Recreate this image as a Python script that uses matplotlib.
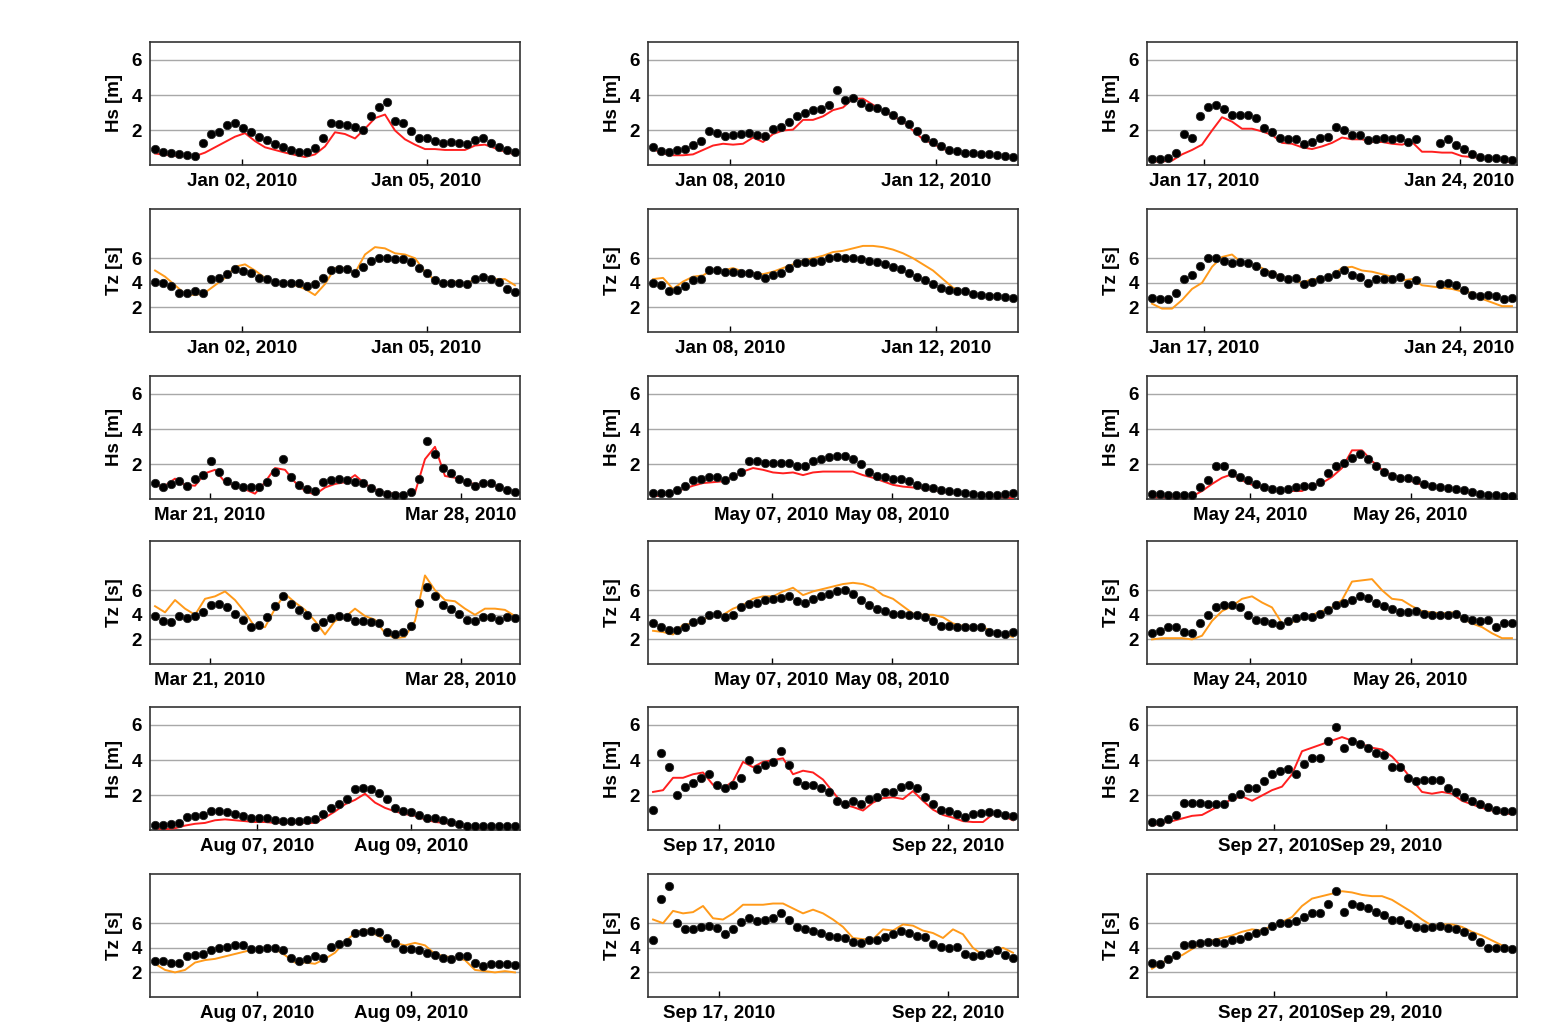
import numpy as np
import pandas as pd
import matplotlib
matplotlib.use("Agg")
import matplotlib.pyplot as plt
import matplotlib.dates as mdates

plt.rcParams['font.family'] = ['Liberation Sans', 'DejaVu Sans']
plt.rcParams['font.weight'] = 'bold'
nan = np.nan

# ------------------------------------------------------------------ data
# Event 1: early January
jan01_span = ["2009-12-31 14:00", "2010-01-06 10:30"]
jan01_ticks = ["2010-01-02", "2010-01-05"]
jan01_hs_obs = [0.95, 0.8, 0.75, 0.68, 0.62, 0.55, 1.3, 1.8, 1.9, 2.3, 2.4, 2.15, 1.9, 1.65, 1.45, 1.25,
                1.05, 0.9, 0.8, 0.78, 1.0, 1.55, 2.45, 2.35, 2.3, 2.2, 2.05, 2.8, 3.35, 3.6, 2.55, 2.4,
                1.95, 1.6, 1.6, 1.4, 1.3, 1.35, 1.3, 1.25, 1.45, 1.6, 1.3, 1.05, 0.9, 0.8]
jan01_hs_mod = [0.7, 0.62, 0.57, 0.55, 0.55, 0.75, 1.05, 1.35, 1.65, 1.85, 1.4, 1.05, 0.9, 0.75, 0.62,
                0.5, 0.65, 1.1, 1.9, 1.8, 1.55, 2.1, 2.7, 2.9, 2.0, 1.5, 1.2, 0.95, 0.95, 0.9, 0.9,
                0.9, 1.15, 1.2, 1.0, 0.8, 0.65]
jan01_tz_obs = [4.1, 4.0, 3.7, 3.15, 3.2, 3.3, 3.2, 4.3, 4.4, 4.7, 5.1, 4.95, 4.8, 4.4, 4.3, 4.1,
                4.0, 4.0, 4.0, 3.7, 3.9, 4.4, 5.0, 5.1, 5.1, 4.8, 5.3, 5.8, 6.0, 6.0, 5.95, 5.9,
                5.7, 5.2, 4.8, 4.2, 4.0, 4.0, 4.0, 3.9, 4.3, 4.5, 4.3, 4.1, 3.5, 3.25]
jan01_tz_mod = [5.0, 4.5, 3.8, 3.1, 3.0, 3.2, 3.8, 4.4, 5.3, 5.5, 5.0, 4.4, 4.0, 4.0, 3.8, 3.5,
                3.0, 3.9, 5.2, 5.2, 4.8, 6.3, 6.9, 6.8, 6.4, 6.3, 6.0, 4.9, 4.2, 4.0, 4.1, 3.9,
                4.3, 4.5, 4.3, 4.3, 3.8]

# Event 2: mid January
jan08_span = ["2010-01-06 12:00", "2010-01-13 12:00"]
jan08_ticks = ["2010-01-08", "2010-01-12"]
jan08_hs_obs = [1.05, 0.85, 0.8, 0.9, 0.95, 1.2, 1.4, 1.95, 1.85, 1.7, 1.75, 1.8, 1.85, 1.75, 1.7, 2.1,
                2.2, 2.5, 2.8, 3.0, 3.15, 3.2, 3.45, 4.3, 3.7, 3.85, 3.55, 3.3, 3.25, 3.1, 2.9, 2.6,
                2.35, 1.95, 1.6, 1.35, 1.1, 0.9, 0.85, 0.75, 0.7, 0.65, 0.65, 0.6, 0.55, 0.5]
jan08_hs_mod = [0.95, 0.7, 0.6, 0.6, 0.65, 0.9, 1.15, 1.25, 1.2, 1.25, 1.6, 1.35, 1.8, 2.0, 2.05, 2.6,
                2.6, 2.8, 3.15, 3.3, 3.8, 3.8, 3.45, 3.1, 2.8, 2.5, 2.0, 1.5, 1.25, 0.95, 0.8, 0.7,
                0.65, 0.6, 0.6, 0.55, 0.5]
jan08_tz_obs = [4.0, 3.8, 3.3, 3.4, 3.7, 4.2, 4.3, 5.0, 5.0, 4.9, 4.9, 4.8, 4.8, 4.6, 4.4, 4.6,
                4.8, 5.2, 5.6, 5.7, 5.7, 5.8, 6.0, 6.1, 6.0, 6.0, 5.9, 5.8, 5.7, 5.5, 5.3, 5.1,
                4.8, 4.5, 4.2, 3.9, 3.6, 3.4, 3.3, 3.3, 3.1, 3.0, 2.95, 2.95, 2.85, 2.75]
jan08_tz_mod = [4.3, 4.4, 3.5, 4.1, 4.5, 4.6, 5.1, 5.0, 5.2, 4.9, 4.8, 4.7, 4.9, 5.2, 5.5, 5.8,
                6.0, 6.2, 6.5, 6.6, 6.8, 7.0, 7.0, 6.9, 6.7, 6.4, 6.0, 5.5, 5.0, 4.3, 3.6, 3.3,
                3.2, 3.0, 3.0, 2.9, 2.8]

# Event 3: late January
jan17_span = ["2010-01-15 13:30", "2010-01-25 10:30"]
jan17_ticks = ["2010-01-17", "2010-01-24"]
jan17_hs_obs = [0.4, 0.4, 0.45, 0.7, 1.8, 1.6, 2.8, 3.35, 3.45, 3.2, 2.9, 2.9, 2.85, 2.7, 2.15, 1.9,
                1.55, 1.5, 1.5, 1.25, 1.35, 1.55, 1.65, 2.2, 2.0, 1.75, 1.75, 1.45, 1.5, 1.6, 1.5, 1.55,
                1.35, 1.5, nan, nan, 1.3, 1.5, 1.2, 0.95, 0.65, 0.5, 0.45, 0.45, 0.4, 0.35]
jan17_hs_mod = [0.25, 0.25, 0.3, 0.65, 0.9, 1.2, 2.0, 2.75, 2.5, 2.1, 2.1, 1.95, 1.75, 1.3, 1.25, 1.05,
                0.95, 1.1, 1.3, 1.6, 1.5, 1.5, 1.35, 1.35, 1.25, 1.2, 1.35, 0.8, 0.8, 0.75, 0.75, 0.55,
                0.5, 0.45, 0.4, 0.3, 0.2]
jan17_tz_obs = [2.8, 2.7, 2.7, 3.2, 4.3, 4.6, 5.4, 6.0, 6.0, 5.8, 5.6, 5.7, 5.6, 5.4, 4.9, 4.7,
                4.5, 4.3, 4.4, 3.9, 4.1, 4.3, 4.5, 4.7, 5.0, 4.6, 4.5, 4.0, 4.3, 4.3, 4.3, 4.5,
                3.9, 4.2, nan, nan, 3.9, 4.0, 3.8, 3.4, 3.0, 2.9, 3.0, 2.9, 2.7, 2.75]
jan17_tz_mod = [2.3, 1.9, 1.9, 2.6, 3.5, 4.0, 5.3, 6.1, 6.3, 5.6, 5.5, 5.2, 4.8, 4.5, 4.3, 4.0,
                4.3, 4.3, 4.6, 5.2, 5.3, 5.0, 4.9, 4.7, 4.5, 4.2, 4.3, 3.8, 3.7, 3.6, 3.5, 3.3,
                3.2, 2.7, 2.4, 2.1, 2.1]

# Event 4: March
mar_span = ["2010-03-19 11:30", "2010-03-29 12:00"]
mar_ticks = ["2010-03-21", "2010-03-28"]
mar_hs_obs = [0.95, 0.75, 0.9, 1.05, 0.8, 1.2, 1.4, 2.2, 1.6, 1.05, 0.85, 0.7, 0.7, 0.75, 1.0, 1.6,
              2.3, 1.3, 0.85, 0.6, 0.5, 1.0, 1.15, 1.2, 1.15, 1.0, 0.95, 0.65, 0.45, 0.35, 0.3, 0.3,
              0.45, 1.2, 3.3, 2.6, 1.8, 1.5, 1.2, 1.0, 0.8, 0.95, 0.95, 0.7, 0.55, 0.45]
mar_hs_mod = [0.8, 0.8, 1.2, 0.85, 0.8, 1.5, 1.7, 1.0, 0.8, 0.6, 0.35, 1.0, 1.8, 1.7, 1.0, 0.5,
              0.3, 0.7, 0.9, 1.0, 1.4, 0.9, 0.6, 0.4, 0.35, 0.3, 0.4, 2.3, 3.0, 1.35, 1.25, 1.0,
              0.9, 0.9, 0.8, 0.6, 0.45]
mar_tz_obs = [3.9, 3.5, 3.4, 3.9, 3.7, 3.9, 4.2, 4.8, 4.9, 4.6, 4.1, 3.6, 3.0, 3.2, 3.8, 4.7,
              5.5, 4.9, 4.4, 4.0, 3.0, 3.4, 3.7, 3.9, 3.8, 3.5, 3.5, 3.4, 3.3, 2.6, 2.4, 2.6,
              3.1, 5.0, 6.3, 5.5, 4.8, 4.5, 4.1, 3.6, 3.5, 3.8, 3.8, 3.6, 3.8, 3.7]
mar_tz_mod = [4.7, 4.2, 5.2, 4.5, 4.0, 5.3, 5.5, 5.9, 5.2, 4.2, 3.0, 3.0, 4.5, 5.7, 5.0, 4.4,
              3.5, 2.4, 3.5, 3.8, 4.5, 3.9, 3.6, 2.5, 2.1, 2.2, 3.5, 7.2, 6.0, 5.2, 5.1, 4.5,
              4.0, 4.5, 4.5, 4.4, 3.9]

# Event 5: early May
may07_span = ["2010-05-06 00:20", "2010-05-09 00:10"]
may07_ticks = ["2010-05-07", "2010-05-08"]
may07_hs_obs = [0.4, 0.4, 0.4, 0.55, 0.8, 1.1, 1.2, 1.3, 1.3, 1.15, 1.35, 1.6, 2.2, 2.2, 2.1, 2.1,
                2.1, 2.1, 1.9, 1.9, 2.2, 2.3, 2.45, 2.5, 2.5, 2.3, 2.05, 1.6, 1.35, 1.3, 1.2, 1.2,
                1.05, 0.85, 0.75, 0.65, 0.55, 0.5, 0.45, 0.4, 0.35, 0.3, 0.3, 0.3, 0.35, 0.4]
may07_hs_mod = [0.2, 0.25, 0.45, 0.6, 0.8, 0.95, 1.0, 1.05, 1.3, 1.6, 1.8, 1.7, 1.55, 1.5, 1.55, 1.4,
                1.55, 1.6, 1.6, 1.6, 1.6, 1.4, 1.25, 1.05, 0.85, 0.75, 0.7, 0.65, 0.55, 0.45, 0.4,
                0.35, 0.3, 0.25, 0.2, 0.15, 0.1]
may07_tz_obs = [3.3, 3.0, 2.8, 2.8, 3.0, 3.4, 3.6, 4.0, 4.1, 3.8, 4.0, 4.6, 4.9, 5.0, 5.2, 5.3,
                5.4, 5.5, 5.1, 5.0, 5.3, 5.5, 5.7, 5.9, 6.0, 5.7, 5.2, 4.8, 4.5, 4.3, 4.1, 4.1,
                4.0, 4.0, 3.8, 3.5, 3.1, 3.1, 3.0, 3.0, 3.0, 3.0, 2.6, 2.5, 2.4, 2.6]
may07_tz_mod = [2.7, 2.6, 2.4, 3.2, 3.3, 3.6, 4.0, 4.0, 4.5, 4.8, 5.3, 5.5, 5.5, 5.9, 6.2, 5.6,
                5.9, 6.1, 6.3, 6.5, 6.6, 6.5, 6.2, 5.6, 5.3, 4.7, 4.1, 4.0, 4.0, 3.8, 3.3, 3.1,
                3.1, 3.0, 2.6, 2.4, 2.2]

# Event 6: late May
may24_span = ["2010-05-22 18:40", "2010-05-27 06:20"]
may24_ticks = ["2010-05-24", "2010-05-26"]
may24_hs_obs = [0.35, 0.35, 0.3, 0.3, 0.3, 0.3, 0.7, 1.15, 1.9, 1.9, 1.5, 1.3, 1.1, 0.9, 0.75, 0.6,
                0.55, 0.6, 0.75, 0.8, 0.8, 1.0, 1.5, 1.9, 2.1, 2.35, 2.6, 2.3, 1.9, 1.6, 1.35, 1.25,
                1.25, 1.1, 0.9, 0.8, 0.75, 0.65, 0.6, 0.55, 0.45, 0.35, 0.3, 0.25, 0.2, 0.2]
may24_hs_mod = [0.15, 0.15, 0.15, 0.15, 0.2, 0.5, 0.9, 1.25, 1.45, 1.1, 0.85, 0.7, 0.55, 0.55, 0.5,
                0.5, 0.8, 0.95, 1.3, 1.8, 2.8, 2.8, 2.2, 1.7, 1.4, 1.2, 1.05, 0.85, 0.75, 0.65, 0.6,
                0.5, 0.4, 0.3, 0.25, 0.15, 0.1]
may24_tz_obs = [2.5, 2.7, 3.0, 3.0, 2.6, 2.5, 3.3, 4.0, 4.6, 4.8, 4.8, 4.6, 4.0, 3.6, 3.5, 3.3,
                3.2, 3.5, 3.7, 3.9, 3.8, 4.1, 4.4, 4.8, 5.0, 5.2, 5.5, 5.4, 5.0, 4.7, 4.5, 4.2,
                4.2, 4.3, 4.1, 4.0, 4.0, 4.0, 4.1, 3.7, 3.6, 3.5, 3.6, 3.0, 3.3, 3.3]
may24_tz_mod = [2.0, 2.1, 2.1, 2.1, 2.0, 2.3, 3.5, 4.3, 4.7, 5.3, 5.5, 5.0, 4.6, 3.3, 3.4, 3.7,
                4.0, 4.3, 4.6, 5.2, 6.7, 6.8, 6.9, 6.0, 5.3, 5.2, 4.7, 4.3, 4.2, 4.1, 4.2, 3.7,
                3.3, 3.0, 2.5, 2.1, 2.1]

# Event 7: August
aug_span = ["2010-08-05 16:10", "2010-08-10 08:30"]
aug_ticks = ["2010-08-07", "2010-08-09"]
aug_hs_obs = [0.35, 0.35, 0.4, 0.45, 0.8, 0.85, 0.9, 1.15, 1.1, 1.05, 0.95, 0.85, 0.75, 0.7, 0.7, 0.6,
              0.55, 0.55, 0.55, 0.6, 0.65, 0.95, 1.3, 1.5, 1.8, 2.35, 2.4, 2.35, 2.15, 1.8, 1.3, 1.15,
              1.05, 0.9, 0.75, 0.7, 0.6, 0.5, 0.4, 0.3, 0.3, 0.3, 0.3, 0.3, 0.3, 0.3]
aug_hs_mod = [0.15, 0.1, 0.15, 0.3, 0.4, 0.45, 0.6, 0.65, 0.6, 0.55, 0.5, 0.5, 0.45, 0.45, 0.45, 0.45,
              0.45, 0.75, 1.1, 1.5, 1.75, 2.1, 1.6, 1.3, 1.1, 0.95, 0.85, 0.65, 0.5, 0.45, 0.35, 0.2,
              0.15, 0.15, 0.2, 0.25, 0.25]
aug_tz_obs = [2.9, 2.9, 2.75, 2.8, 3.3, 3.4, 3.5, 3.8, 4.0, 4.1, 4.2, 4.2, 3.9, 3.9, 4.0, 4.0,
              3.8, 3.2, 2.9, 3.1, 3.3, 3.2, 4.1, 4.3, 4.5, 5.2, 5.3, 5.4, 5.3, 4.8, 4.4, 3.9,
              3.9, 3.8, 3.6, 3.4, 3.2, 3.1, 3.3, 3.3, 2.8, 2.5, 2.7, 2.7, 2.7, 2.6]
aug_tz_mod = [2.7, 2.2, 2.0, 2.2, 2.8, 3.0, 3.1, 3.3, 3.5, 3.7, 3.9, 4.0, 3.9, 3.4, 2.8, 2.8,
              2.7, 3.1, 3.6, 4.5, 5.2, 5.5, 5.1, 4.7, 4.4, 4.2, 4.4, 4.2, 3.5, 3.3, 3.2, 3.0,
              2.2, 2.1, 2.0, 2.1, 2.0]

# Event 8: mid September
sep17_span = ["2010-09-15 13:30", "2010-09-23 10:10"]
sep17_ticks = ["2010-09-17", "2010-09-22"]
sep17_hs_obs = [1.2, 4.4, 3.6, 2.0, 2.5, 2.7, 3.0, 3.2, 2.6, 2.4, 2.6, 3.0, 4.0, 3.5, 3.7, 3.9,
                4.5, 3.7, 2.8, 2.6, 2.6, 2.4, 2.2, 1.7, 1.5, 1.7, 1.5, 1.8, 1.9, 2.2, 2.2, 2.5,
                2.6, 2.4, 1.9, 1.5, 1.2, 1.1, 0.95, 0.8, 0.95, 1.0, 1.05, 1.0, 0.9, 0.85]
sep17_hs_mod = [2.2, 2.3, 3.0, 3.0, 3.2, 3.3, 2.6, 2.4, 2.8, 3.9, 3.6, 3.9, 4.0, 4.1, 3.2, 3.4,
                3.3, 2.9, 2.2, 1.5, 1.35, 1.15, 1.6, 1.85, 1.9, 1.8, 2.25, 1.7, 1.2, 0.9, 0.75, 0.55,
                0.5, 0.5, 0.95, 0.85, 0.6]
sep17_tz_obs = [4.6, 8.0, 9.0, 6.0, 5.5, 5.5, 5.7, 5.8, 5.6, 5.1, 5.5, 6.1, 6.4, 6.2, 6.3, 6.4,
                6.8, 6.3, 5.7, 5.5, 5.4, 5.2, 5.0, 4.9, 4.8, 4.5, 4.4, 4.6, 4.6, 4.9, 5.1, 5.4,
                5.2, 5.0, 4.9, 4.3, 4.1, 4.0, 4.1, 3.5, 3.3, 3.4, 3.6, 3.8, 3.4, 3.2]
sep17_tz_mod = [6.3, 6.0, 7.0, 6.8, 6.9, 7.4, 6.4, 6.3, 6.8, 7.5, 7.5, 7.5, 7.6, 7.6, 7.2, 6.8,
                7.1, 6.8, 6.3, 5.7, 4.8, 4.7, 4.7, 5.5, 5.4, 5.9, 5.8, 5.4, 5.2, 4.8, 5.5, 5.1,
                4.0, 3.4, 3.6, 4.0, 3.6]

# Event 9: late September
sep27_span = ["2010-09-24 19:50", "2010-10-01 05:40"]
sep27_ticks = ["2010-09-27", "2010-09-29"]
sep27_hs_obs = [0.5, 0.5, 0.65, 0.9, 1.6, 1.6, 1.55, 1.5, 1.5, 1.5, 1.9, 2.1, 2.4, 2.4, 2.8, 3.2,
                3.4, 3.5, 3.2, 3.8, 4.1, 4.1, 5.1, 5.85, 4.7, 5.1, 4.9, 4.7, 4.4, 4.3, 3.6, 3.6,
                3.0, 2.8, 2.9, 2.9, 2.9, 2.4, 2.2, 1.9, 1.7, 1.5, 1.35, 1.2, 1.15, 1.1]
sep27_hs_mod = [0.3, 0.45, 0.55, 0.7, 0.85, 0.9, 1.2, 1.5, 1.8, 1.95, 1.7, 2.0, 2.3, 2.5, 3.2, 4.5,
                4.7, 4.9, 5.1, 5.3, 5.1, 4.9, 4.7, 4.6, 4.2, 3.6, 2.9, 2.2, 2.1, 2.2, 2.1, 1.7,
                1.5, 1.3, 1.15, 1.0, 0.95]
sep27_tz_obs = [2.8, 2.7, 3.1, 3.4, 4.2, 4.3, 4.4, 4.5, 4.5, 4.4, 4.6, 4.7, 5.0, 5.2, 5.4, 5.8,
                6.0, 6.0, 6.2, 6.5, 6.8, 6.8, 7.6, 8.6, 6.9, 7.6, 7.4, 7.2, 6.9, 6.7, 6.3, 6.3,
                5.9, 5.7, 5.6, 5.7, 5.8, 5.6, 5.5, 5.3, 5.0, 4.5, 4.0, 4.0, 4.0, 3.9]
sep27_tz_mod = [2.3, 2.8, 3.2, 3.4, 3.9, 4.4, 4.6, 4.8, 5.0, 5.3, 5.5, 5.4, 5.8, 6.1, 6.5, 7.4,
                8.0, 8.2, 8.4, 8.6, 8.5, 8.3, 8.2, 8.2, 7.9, 7.4, 6.9, 6.3, 5.8, 5.9, 5.9, 5.7,
                5.3, 5.0, 4.6, 4.2, 3.9]

# ------------------------------------------------------------------ assembly
events = [
    (jan01_span, jan01_ticks, jan01_hs_obs, jan01_hs_mod, jan01_tz_obs, jan01_tz_mod),
    (jan08_span, jan08_ticks, jan08_hs_obs, jan08_hs_mod, jan08_tz_obs, jan08_tz_mod),
    (jan17_span, jan17_ticks, jan17_hs_obs, jan17_hs_mod, jan17_tz_obs, jan17_tz_mod),
    (mar_span, mar_ticks, mar_hs_obs, mar_hs_mod, mar_tz_obs, mar_tz_mod),
    (may07_span, may07_ticks, may07_hs_obs, may07_hs_mod, may07_tz_obs, may07_tz_mod),
    (may24_span, may24_ticks, may24_hs_obs, may24_hs_mod, may24_tz_obs, may24_tz_mod),
    (aug_span, aug_ticks, aug_hs_obs, aug_hs_mod, aug_tz_obs, aug_tz_mod),
    (sep17_span, sep17_ticks, sep17_hs_obs, sep17_hs_mod, sep17_tz_obs, sep17_tz_mod),
    (sep27_span, sep27_ticks, sep27_hs_obs, sep27_hs_mod, sep27_tz_obs, sep27_tz_mod),
]

W, H = 1551, 1028
fig = plt.figure(figsize=(W / 100, H / 100), dpi=100)

col_left = [150, 648, 1147]
row_top = [42, 209, 376, 541, 707, 874]
ax_w, ax_h = 370, 123

RED = '#ff1f1f'
ORANGE = '#ff9a1a'
FS = 13.5


def times(span, n):
    t0, t1 = pd.Timestamp(span[0]), pd.Timestamp(span[1])
    return pd.to_datetime(np.linspace(t0.value, t1.value, n))


def draw(ax, span, ticks, obs, mod, color, ylim, ylabel):
    ax.plot(times(span, len(mod)), mod, color=color, lw=1.4, zorder=3)
    ax.plot(times(span, len(obs)), obs, 'o', color='black', ms=6.0, mec='#222222', mew=0.6, zorder=4)
    ax.margins(x=0.014)
    ax.set_ylim(*ylim)
    ax.set_yticks([2, 4, 6])
    ax.yaxis.grid(True, color='#a8a8a8', lw=1.0, zorder=0)
    ax.set_axisbelow(True)
    ax.set_xticks(pd.to_datetime(ticks))
    ax.xaxis.set_major_formatter(mdates.DateFormatter('%b %d, %Y'))
    ax.tick_params(axis='x', direction='in', length=4, width=1, pad=6, labelsize=FS, top=False)
    ax.tick_params(axis='y', length=0, pad=6, labelsize=FS)
    for lab in ax.get_xticklabels() + ax.get_yticklabels():
        lab.set_fontweight('bold')
    ax.set_ylabel(ylabel, fontsize=FS, fontweight='bold', labelpad=6)
    for s in ax.spines.values():
        s.set_color('#333333')
        s.set_linewidth(1.2)


for i, (span, ticks, hs_o, hs_m, tz_o, tz_m) in enumerate(events):
    r = (i // 3) * 2
    c = i % 3
    for k in range(2):
        top = row_top[r + k]
        ax = fig.add_axes([col_left[c] / W, 1 - (top + ax_h) / H, ax_w / W, ax_h / H])
        if k == 0:
            draw(ax, span, ticks, hs_o, hs_m, RED, (0.05, 7), 'Hs [m]')
        else:
            draw(ax, span, ticks, tz_o, tz_m, ORANGE, (0, 10), 'Tz [s]')

fig.savefig('out.png', dpi=100, facecolor='white')
